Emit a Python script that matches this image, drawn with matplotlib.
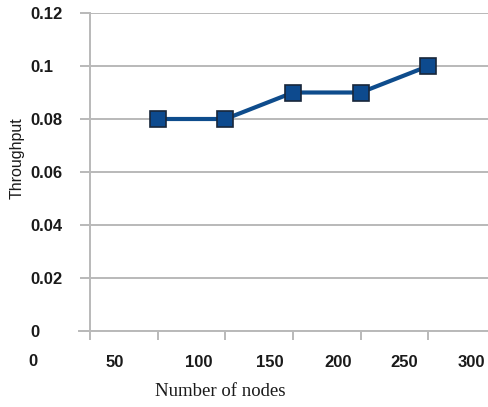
import matplotlib
matplotlib.use("Agg")
import matplotlib.pyplot as plt
from matplotlib.ticker import FixedLocator, FixedFormatter, NullFormatter

# data
nodes = [50, 100, 150, 200, 250]
throughput = [0.08, 0.08, 0.09, 0.09, 0.10]

y_ticks = [0, 0.02, 0.04, 0.06, 0.08, 0.1, 0.12]
y_tick_labels = ["0", "0.02", "0.04", "0.06", "0.08", "0.1", "0.12"]
x_major_ticks = [0, 50, 100, 150, 200, 250]
x_label_pos = [18.5, 80, 133, 183, 232, 282]
x_tick_labels = ["50", "100", "150", "200", "250", "300"]

W, H = 488, 407
fig = plt.figure(figsize=(W / 100, H / 100), dpi=100)
ax = fig.add_axes([90 / W, (H - 331) / H, (W - 90) / W, (331 - 13) / H])

line_col = "#0e4c8c"
ax.plot(nodes, throughput, color=line_col, lw=3.0, marker="s", ms=11.5,
        markerfacecolor="#0d4a8e", markeredgecolor="#18263a", markeredgewidth=1.2,
        zorder=3, clip_on=False)

ax.set_xlim(0, 294)
ax.set_ylim(0, 0.12)

grid_col = "#b9b9b9"
ax.yaxis.set_major_locator(FixedLocator(y_ticks))
ax.yaxis.set_major_formatter(FixedFormatter(y_tick_labels))
ax.grid(axis="y", color=grid_col, lw=1.4, zorder=0)
ax.tick_params(axis="y", which="major", length=7.2, width=1.4, color=grid_col,
               pad=36, labelsize=12)
for t in ax.get_yticklabels():
    t.set_horizontalalignment("left")
    t.set_fontfamily("Liberation Sans")
    t.set_fontweight("bold")
    t.set_color("#1a1a1a")

ax.xaxis.set_major_locator(FixedLocator(x_major_ticks))
ax.xaxis.set_major_formatter(NullFormatter())
ax.xaxis.set_minor_locator(FixedLocator(x_label_pos))
ax.xaxis.set_minor_formatter(FixedFormatter(x_tick_labels))
ax.tick_params(axis="x", which="major", length=6.5, width=1.4, color=grid_col)
ax.tick_params(axis="x", which="minor", length=0, pad=17, labelsize=12)
for t in ax.xaxis.get_minorticklabels():
    t.set_fontfamily("Liberation Sans")
    t.set_fontweight("bold")
    t.set_color("#1a1a1a")
ax.text(-42, (331 - 362) / 318, "0", transform=ax.get_xaxis_transform(), ha="center",
        va="center", fontsize=12, fontweight="bold", family="Liberation Sans",
        color="#1a1a1a")

for s in ["top", "right"]:
    ax.spines[s].set_visible(False)
ax.spines["left"].set_color(grid_col)
ax.spines["left"].set_linewidth(1.4)
ax.spines["bottom"].set_color(grid_col)
ax.spines["bottom"].set_linewidth(1.4)
ax.spines["bottom"].set_bounds(-8, 294)

ax.set_ylabel("Throughput", fontsize=11.5, family="Liberation Sans",
              color="#1a1a1a", va="center")
ax.yaxis.set_label_coords((17 - 90) / 398, (331 - 158) / 318)
ax.set_xlabel("Number of nodes", fontsize=13.5, family="Liberation Serif",
              color="#1a1a1a", va="center")
ax.xaxis.set_label_coords((220 - 90) / 398, (331 - 392) / 318)

fig.savefig("out.png", dpi=100)
